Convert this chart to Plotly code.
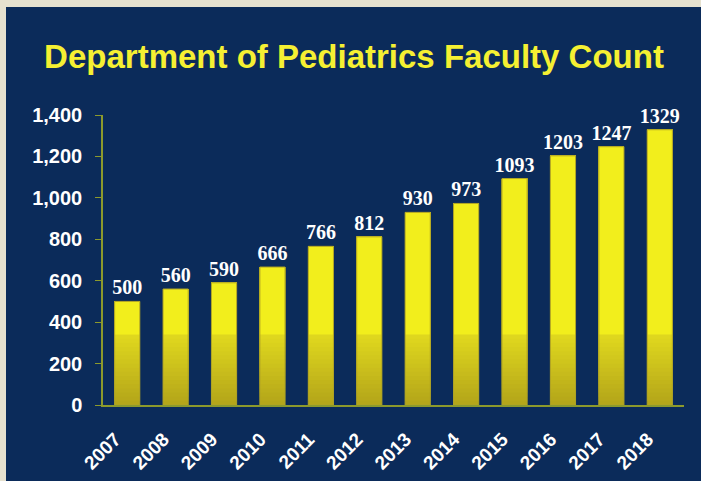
import plotly.graph_objects as go

years = ["2007", "2008", "2009", "2010", "2011", "2012",
         "2013", "2014", "2015", "2016", "2017", "2018"]
faculty = [500, 560, 590, 666, 766, 812, 930, 973, 1093, 1203, 1247, 1329]

W, H = 701, 481
ML, MR, MT, MB = 103, 17, 115, 76
PW, PH = W - ML - MR, H - MT - MB

# vertical gradient of the bars: olive at the base, bright yellow from ~340 up
FADE_TOP = 340
bands = list(range(0, FADE_TOP, 20)) + [FADE_TOP]


def band_color(lo):
    if lo >= FADE_TOP:
        return "#f2ee1c"
    t = lo / FADE_TOP
    c0 = (180, 166, 26)
    c1 = (226, 218, 30)
    r, g, b = (round(a + (c - a) * t) for a, c in zip(c0, c1))
    return f"rgb({r},{g},{b})"


fig = go.Figure()
# each layer runs from its band start up to the bar top, so later layers cover
# earlier ones without seams
for lo in bands:
    fig.add_trace(go.Bar(
        x=years, y=[max(v - lo, 0) for v in faculty], base=lo,
        marker=dict(color=band_color(lo), line=dict(width=0)),
        hoverinfo="skip", showlegend=False,
    ))

# bar outline + value labels
fig.add_trace(go.Bar(
    x=years, y=faculty, base=0,
    marker=dict(color="rgba(0,0,0,0)", line=dict(color="#aea226", width=1)),
    text=[str(v) for v in faculty], textposition="outside",
    constraintext="none",
    textfont=dict(family="Liberation Serif", size=20, color="white", weight="bold"),
    cliponaxis=False, showlegend=False,
))

fig.update_layout(
    width=W, height=H,
    barmode="overlay", bargap=0.48,
    margin=dict(l=ML, r=MR, t=MT, b=MB, autoexpand=False),
    paper_bgcolor="#0b2b5a", plot_bgcolor="#0b2b5a",
    title=dict(text="<b>Department of Pediatrics Faculty Count</b>",
               x=354 / W, xanchor="center", y=1 - 56 / H, yanchor="middle",
               font=dict(family="Liberation Sans", size=33, color="#f5f032")),
    showlegend=False,
    shapes=[
        dict(type="rect", xref="paper", yref="paper", layer="above",
             x0=-ML / PW, x1=(-ML + 6) / PW, y0=-MB / PH, y1=(PH + MT) / PH,
             fillcolor="#e6e1cf", line=dict(width=0)),
        dict(type="rect", xref="paper", yref="paper", layer="above",
             x0=-ML / PW, x1=(PW + MR) / PW, y0=(PH + MT - 7) / PH, y1=(PH + MT) / PH,
             fillcolor="#e6e1cf", line=dict(width=0)),
    ],
)
fig.update_xaxes(
    type="category", tickangle=-45, showgrid=False, automargin=False,
    showline=True, linecolor="#8c9a2c", linewidth=1.5,
    ticks="", ticklabelstandoff=14, ticklabelshift=-12,
    tickfont=dict(family="Liberation Sans", size=19, color="white", weight="bold"),
)
fig.update_yaxes(
    range=[0, 1400], tickvals=list(range(0, 1401, 200)), tickformat=",",
    showgrid=False, zeroline=False, automargin=False,
    showline=True, linecolor="#8c9a2c", linewidth=1.5,
    ticks="outside", ticklen=6, tickcolor="#8c9a2c", ticklabelstandoff=9,
    tickfont=dict(family="Liberation Sans", size=20, color="white", weight="bold"),
)

fig.write_html("out.html", config={"displayModeBar": False},
               post_script="document.body.style.margin='0';"
                           "document.body.style.overflow='hidden';"
                           "document.documentElement.style.overflow='hidden';"
                           "document.body.style.background='#0b2b5a';")
